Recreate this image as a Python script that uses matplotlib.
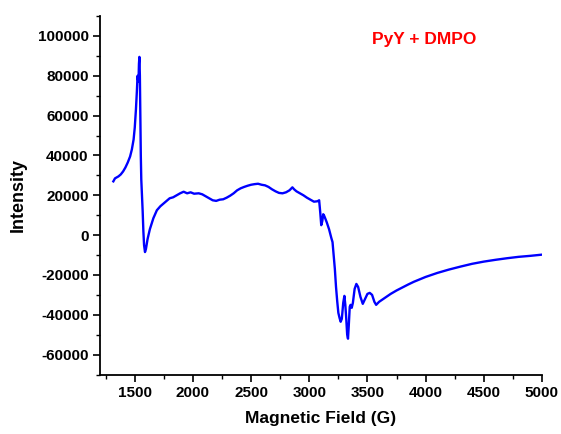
import matplotlib
matplotlib.use("Agg")
import matplotlib.pyplot as plt
from matplotlib.ticker import MultipleLocator

field = [1316, 1330, 1345, 1360, 1380, 1400, 1420, 1440, 1460, 1475, 1490, 1500, 1510, 1518, 1524, 1528,
         1532, 1536, 1540, 1544, 1548, 1552, 1556, 1562, 1568, 1574, 1580, 1588, 1596, 1610, 1630, 1660,
         1690, 1720, 1750, 1780, 1800, 1830, 1860, 1890, 1920, 1950, 1980, 2010, 2050, 2080, 2110, 2140,
         2170, 2200, 2230, 2260, 2290, 2320, 2350, 2380, 2410, 2440, 2470, 2500, 2530, 2560, 2590, 2620,
         2650, 2680, 2710, 2740, 2770, 2800, 2830, 2855, 2870, 2890, 2920, 2950, 2980, 3010, 3040, 3070,
         3085, 3095, 3103, 3112, 3120, 3130, 3150, 3170, 3190, 3200, 3210, 3220, 3230, 3240, 3250, 3260,
         3270, 3280, 3292, 3302, 3310, 3318, 3326, 3333, 3340, 3348, 3355, 3365, 3375, 3390, 3405, 3420,
         3440, 3460, 3480, 3500, 3520, 3540, 3560, 3575, 3600, 3650, 3700, 3750, 3800, 3850, 3900, 3950,
         4000, 4100, 4200, 4300, 4400, 4500, 4600, 4700, 4800, 4900, 5000]
intensity = [27000, 28500, 29000, 29500, 30500, 32000, 34000, 36500, 39500, 43000, 48000, 54000, 63000,
             72000, 80000, 78000, 77000, 86000, 89500, 80000, 60000, 40000, 28000, 20000, 12000, 2000,
             -5000, -8500, -7000, -2000, 3000, 8500, 12500, 14500, 16000, 17500, 18500, 19000, 20000,
             21000, 21800, 21000, 21500, 20800, 21000, 20500, 19500, 18500, 17500, 17200, 17800, 18000,
             18800, 19800, 21000, 22500, 23500, 24200, 24800, 25300, 25600, 25800, 25300, 25000, 24200,
             23000, 22000, 21200, 21000, 21500, 22500, 24000, 23000, 22000, 21000, 20000, 18800, 17800,
             16800, 17000, 17500, 11000, 5000, 7000, 10500, 9500, 6500, 3000, -1500, -3500, -10000,
             -17000, -26000, -33000, -39000, -41500, -43500, -42000, -34000, -30500, -35000, -42000,
             -50000, -52000, -45000, -36000, -35000, -36500, -34000, -27000, -24500, -26000, -31000,
             -34500, -32000, -29500, -29000, -30000, -33500, -35000, -33500, -31500, -29500, -27800,
             -26300, -24800, -23400, -22200, -21000, -19000, -17300, -15800, -14400, -13300, -12400,
             -11600, -10900, -10400, -9800]

xticks = [1500, 2000, 2500, 3000, 3500, 4000, 4500, 5000]
yticks = [-60000, -40000, -20000, 0, 20000, 40000, 60000, 80000, 100000]

plt.rcParams['font.family'] = ['Liberation Sans', 'DejaVu Sans']
plt.rcParams['font.weight'] = 'bold'
plt.rcParams['axes.unicode_minus'] = False

fig = plt.figure(figsize=(5.61, 4.34), dpi=100)
ax = fig.add_axes([0.178, 0.137, 0.788, 0.826])
ax.plot(field, intensity, color='#0000ff', lw=1.7)

ax.set_xlim(1200, 5000)
ax.set_ylim(-70000, 110000)
ax.set_xticks(xticks)
ax.set_yticks(yticks)
ax.xaxis.set_minor_locator(MultipleLocator(250))
ax.yaxis.set_minor_locator(MultipleLocator(10000))
ax.tick_params(which='major', direction='out', length=5, width=1.2, labelsize=11, pad=3)
ax.tick_params(which='minor', direction='out', length=3, width=1.0)
for lab in ax.get_xticklabels() + ax.get_yticklabels():
    lab.set_fontweight('bold')

for s in ['top', 'right']:
    ax.spines[s].set_visible(False)
for s in ['left', 'bottom']:
    ax.spines[s].set_linewidth(1.3)

ax.set_xlabel('Magnetic Field (G)', fontsize=12.5, fontweight='bold', labelpad=8)
ax.set_ylabel('Intensity', fontsize=13, fontweight='bold', labelpad=8)
ax.text(0.615, 0.935, 'PyY + DMPO', transform=ax.transAxes, color='red',
        fontsize=12.5, fontweight='bold', va='center', ha='left')

fig.savefig('out.png', dpi=100, facecolor='white')
